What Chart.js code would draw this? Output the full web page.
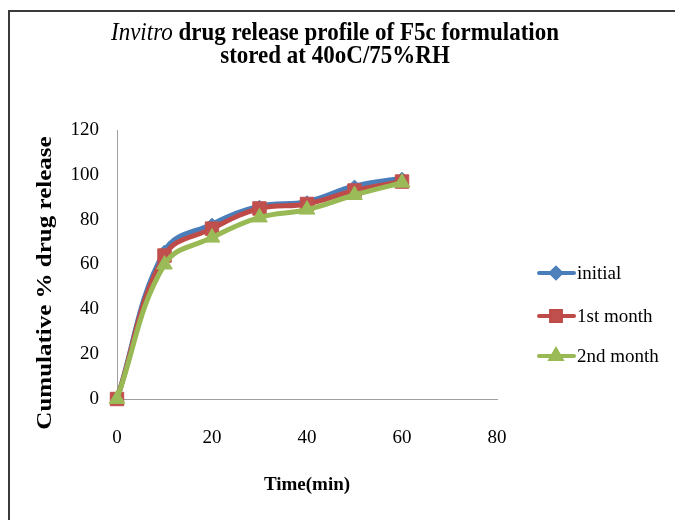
<!DOCTYPE html>
<html>
<head>
<meta charset="utf-8">
<script src="https://cdn.jsdelivr.net/npm/chart.js@4.4.1/dist/chart.umd.min.js"></script>
<style>
  html, body { margin: 0; padding: 0; background: #fff; }
  #wrap { position: relative; width: 675px; height: 520px; overflow: hidden; }
  #frame { position: absolute; left: 8px; top: 10px; width: 700px; height: 560px;
           border-left: 2px solid #3a3a3a; border-top: 2px solid #3a3a3a; }
  canvas { position: absolute; left: 0; top: 0; }
</style>
</head>
<body>
<div id="wrap">
  <div id="frame"></div>
  <canvas id="releaseChart" width="675" height="520"></canvas>
</div>
<script>
// time points (min)
let timePoints = [0, 10, 20, 30, 40, 50, 60];
// cumulative % drug release
let initialRelease = [0, 66, 78, 86, 88, 95, 98.5];
let month1Release = [0, 64, 76, 85, 87, 93, 97];
let month2Release = [0, 60, 72, 81, 84.5, 91, 96.5];
let seriesNames = ['initial', '1st month', '2nd month'];
let xTicks = [0, 20, 40, 60, 80];
let yTicks = [0, 20, 40, 60, 80, 100, 120];

function toPoints(vals) {
    return timePoints.map((t, i) => ({ x: t, y: vals[i] }));
}

let serif = "'Liberation Serif', 'Times New Roman', serif";

// title with italic first word + y axis title (text in the picture is drawn a bit tall)
let titlePlugin = {
    id: 'mixedTitle',
    afterDraw(chart) {
        let ctx = chart.ctx;
        ctx.save();
        ctx.fillStyle = '#000';
        ctx.textBaseline = 'alphabetic';
        let italicFont = 'italic 23px ' + serif;
        let boldFont = 'bold 23px ' + serif;
        ctx.font = italicFont;
        let w1 = ctx.measureText('Invitro').width;
        ctx.font = boldFont;
        let rest = ' drug release profile of F5c formulation';
        let w2 = ctx.measureText(rest).width;
        let cx = 335;
        let x0 = cx - (w1 + w2) / 2;

        ctx.save();
        ctx.translate(0, 40);
        ctx.scale(1, 1.12);
        ctx.font = italicFont;
        ctx.fillText('Invitro', x0, 0);
        ctx.font = boldFont;
        ctx.fillText(rest, x0 + w1, 0);
        ctx.restore();

        ctx.save();
        ctx.translate(cx, 63);
        ctx.scale(1, 1.12);
        ctx.font = boldFont;
        ctx.textAlign = 'center';
        ctx.fillText('stored at 40oC/75%RH', 0, 0);
        ctx.restore();

        ctx.save();
        ctx.translate(46, 283);
        ctx.rotate(-Math.PI / 2);
        ctx.scale(1.25, 1);
        ctx.font = 'bold 20px ' + serif;
        ctx.textAlign = 'center';
        ctx.textBaseline = 'middle';
        ctx.fillText('Cumulative % drug release', 0, 0);
        ctx.restore();

        ctx.restore();
    }
};

// legend on the right: line with marker, then label
let legendPlugin = {
    id: 'sideLegend',
    afterDraw(chart) {
        let ctx = chart.ctx;
        let rows = [273, 316, 356];
        ctx.save();
        chart.data.datasets.forEach((ds, i) => {
            let y = rows[i];
            ctx.strokeStyle = ds.borderColor;
            ctx.lineWidth = 4;
            ctx.lineCap = 'round';
            ctx.beginPath();
            ctx.moveTo(539, y);
            ctx.lineTo(574, y);
            ctx.stroke();
            Chart.helpers.drawPoint(ctx, {
                pointStyle: ds.pointStyle,
                radius: ds.legendRadius,
                rotation: 0,
                borderWidth: 1
            }, 556, y);
            ctx.fillStyle = ds.pointBackgroundColor;
            ctx.strokeStyle = ds.pointBorderColor;
            ctx.fill();
            ctx.fillStyle = '#000';
            ctx.font = '19px ' + serif;
            ctx.textBaseline = 'middle';
            ctx.fillText(ds.label, 577, y + 1);
        });
        ctx.restore();
    }
};

let releaseChartEl = document.getElementById('releaseChart').getContext('2d');
let releaseChart = new Chart(releaseChartEl, {
    type: 'line',
    data: {
        datasets: [
            {
                label: seriesNames[0],
                data: toPoints(initialRelease),
                borderColor: '#4a7ebb',
                backgroundColor: '#4f81bd',
                pointBackgroundColor: '#4f81bd',
                pointBorderColor: '#4f81bd',
                pointStyle: 'rectRot',
                pointRadius: 6,
                legendRadius: 5,
                order: 3
            },
            {
                label: seriesNames[1],
                data: toPoints(month1Release),
                borderColor: '#be4b48',
                backgroundColor: '#c0504d',
                pointBackgroundColor: '#c0504d',
                pointBorderColor: '#c0504d',
                pointStyle: 'rect',
                pointRadius: 9.5,
                legendRadius: 7,
                order: 2
            },
            {
                label: seriesNames[2],
                data: toPoints(month2Release),
                borderColor: '#98b954',
                backgroundColor: '#9bbb59',
                pointBackgroundColor: '#9bbb59',
                pointBorderColor: '#9bbb59',
                pointStyle: 'triangle',
                pointRadius: 9,
                legendRadius: 6,
                order: 1
            }
        ]
    },
    options: {
        responsive: false,
        animation: false,
        events: [],
        layout: {
            padding: { left: 0, top: 130, right: 178, bottom: 0 }
        },
        datasets: {
            line: { clip: false }
        },
        elements: {
            line: { borderWidth: 5, tension: 0.4 },
            point: { borderWidth: 1 }
        },
        scales: {
            x: {
                type: 'linear',
                min: 0,
                max: 80,
                afterBuildTicks: (scale) => { scale.ticks = xTicks.map(v => ({ value: v })); },
                afterFit: (scale) => { scale.height = 121; },
                grid: { display: false, drawTicks: false },
                border: { display: true, color: '#a0a0a0', width: 1 },
                ticks: { color: '#000', padding: 28, font: { family: serif, size: 19 } },
                title: {
                    display: true,
                    text: 'Time(min)',
                    color: '#000',
                    padding: { top: 0, bottom: 24 },
                    font: { family: serif, size: 19, weight: 'bold' }
                }
            },
            y: {
                min: 0,
                max: 120,
                afterBuildTicks: (scale) => { scale.ticks = yTicks.map(v => ({ value: v })); },
                afterFit: (scale) => { scale.width = 117; },
                grid: { display: false, drawTicks: false },
                border: { display: true, color: '#a0a0a0', width: 1 },
                ticks: { color: '#000', padding: 18, font: { family: serif, size: 19 } },
                title: { display: false }
            }
        },
        plugins: {
            legend: { display: false },
            title: { display: false },
            tooltip: { enabled: false }
        }
    },
    plugins: [titlePlugin, legendPlugin]
});
</script>
</body>
</html>
